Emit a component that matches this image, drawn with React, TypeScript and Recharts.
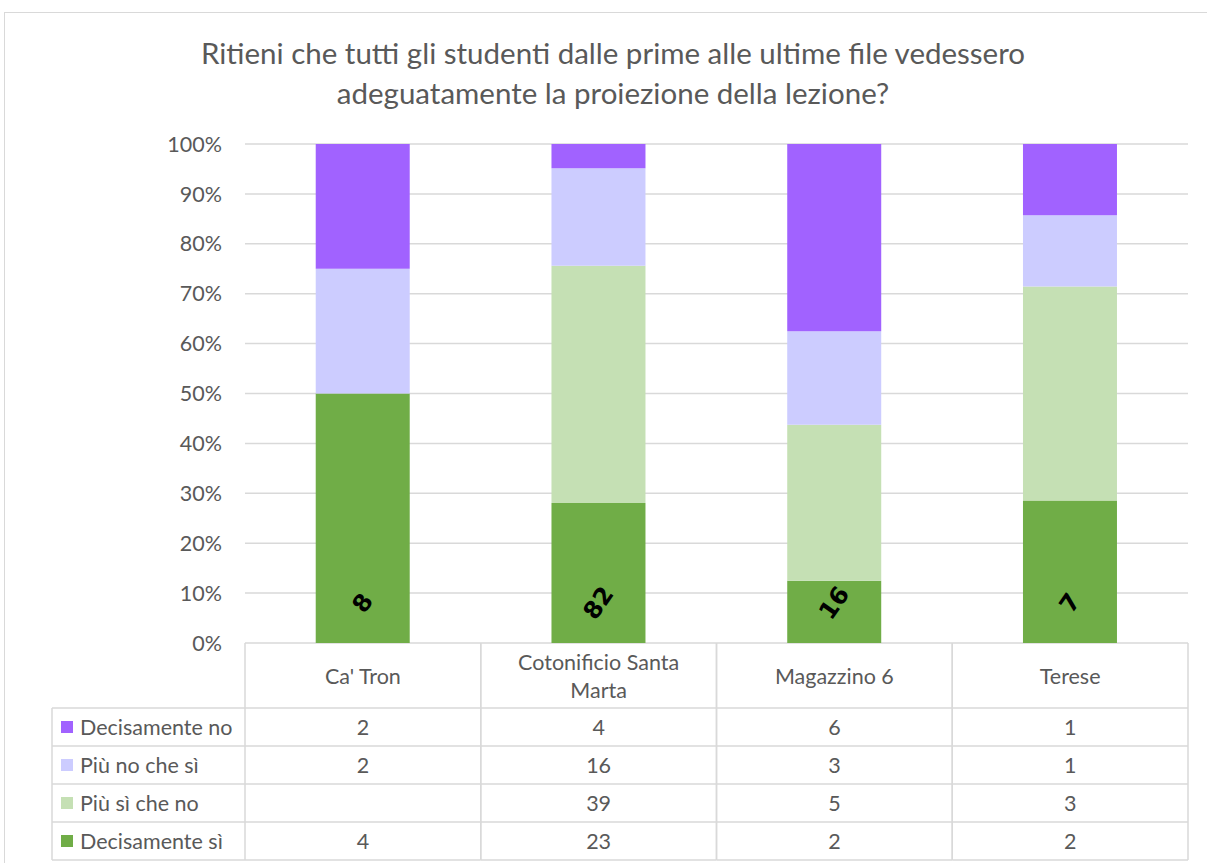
import { BarChart, Bar, XAxis, YAxis, CartesianGrid, LabelList } from "recharts";

const categories = ["Ca' Tron", "Cotonificio Santa Marta", "Magazzino 6", "Terese"];
const decisamenteNo = [2, 4, 6, 1];
const piuNoCheSi = [2, 16, 3, 1];
const piuSiCheNo = [null, 39, 5, 3];
const decisamenteSi = [4, 23, 2, 2];
const yTicks = [0, 0.1, 0.2, 0.3, 0.4, 0.5, 0.6, 0.7, 0.8, 0.9, 1];

// table order (top to bottom) = reverse of stack order
const series = [
  { key: "no", name: "Decisamente no", values: decisamenteNo, color: "#A162FF" },
  { key: "piuNo", name: "Più no che sì", values: piuNoCheSi, color: "#CCCCFF" },
  { key: "piuSi", name: "Più sì che no", values: piuSiCheNo, color: "#C5E0B4" },
  { key: "si", name: "Decisamente sì", values: decisamenteSi, color: "#70AD47" },
];

const totals = categories.map((_, i) =>
  series.reduce((s, r) => s + (r.values[i] ?? 0), 0)
);

const data = categories.map((name, i) => {
  const row: Record<string, string | number | null> = { name, total: totals[i] };
  series.forEach(s => { row[s.key] = s.values[i]; });
  return row;
});

const W = 1207;
const H = 863;
const PLOT_LEFT = 245;
const PLOT_RIGHT = 1188;
const PLOT_TOP = 144;
const PLOT_BOTTOM = 643;
const CELL_W = (PLOT_RIGHT - PLOT_LEFT) / categories.length;
const HEADER_H = 65;
const ROW_H = 38;
const LEGEND_LEFT = 52;
const FONT = "Lato, 'Open Sans', sans-serif";
const FS = 21.5;
const TXT = "#595959";
const LINE = "#d9d9d9";

// crude word wrap for header cells
const wrap = (s: string, max = 18) => {
  const lines: string[] = [];
  let cur = "";
  s.split(" ").forEach(w => {
    const next = cur ? `${cur} ${w}` : w;
    if (next.length > max && cur) { lines.push(cur); cur = w; } else cur = next;
  });
  if (cur) lines.push(cur);
  return lines;
};

function TableTick(props: any) {
  const { x, payload } = props;
  const i = payload.index;
  const left = x - CELL_W / 2;
  const right = x + CELL_W / 2;
  const top = PLOT_BOTTOM;
  const bottom = top + HEADER_H + ROW_H * series.length;
  const lines = wrap(String(payload.value));
  const lh = 28;
  const firstY = top + HEADER_H / 2 - ((lines.length - 1) * lh) / 2 + 8;
  return (
    <g>
      <line x1={left} x2={left} y1={top} y2={bottom} stroke={LINE} strokeWidth={1.5} />
      <line x1={right} x2={right} y1={top} y2={bottom} stroke={LINE} strokeWidth={1.5} />
      <text textAnchor="middle" fontSize={FS} fontFamily={FONT} fill={TXT}>
        {lines.map((l, k) => (
          <tspan key={k} x={x} y={firstY + k * lh}>{l}</tspan>
        ))}
      </text>
      {series.map((s, r) => {
        const y0 = top + HEADER_H + r * ROW_H;
        const v = s.values[i];
        return (
          <g key={s.key}>
            <line x1={left} x2={right} y1={y0} y2={y0} stroke={LINE} strokeWidth={1.5} />
            {v != null && (
              <text x={x} y={y0 + ROW_H / 2 + 8} textAnchor="middle" fontSize={FS} fontFamily={FONT} fill={TXT}>
                {v}
              </text>
            )}
          </g>
        );
      })}
      <line x1={left} x2={right} y1={bottom} y2={bottom} stroke={LINE} strokeWidth={1.5} />
      {i === 0 && (
        <g>
          <line x1={LEGEND_LEFT} x2={LEGEND_LEFT} y1={top + HEADER_H} y2={bottom} stroke={LINE} strokeWidth={1.5} />
          {series.map((s, r) => {
            const y0 = top + HEADER_H + r * ROW_H;
            return (
              <g key={s.key}>
                <line x1={LEGEND_LEFT} x2={left} y1={y0} y2={y0} stroke={LINE} strokeWidth={1.5} />
                <rect x={LEGEND_LEFT + 9} y={y0 + ROW_H / 2 - 6} width={12} height={12} fill={s.color} />
                <text x={LEGEND_LEFT + 28} y={y0 + ROW_H / 2 + 8} fontSize={FS} fontFamily={FONT} fill={TXT}>
                  {s.name}
                </text>
              </g>
            );
          })}
          <line x1={LEGEND_LEFT} x2={left} y1={bottom} y2={bottom} stroke={LINE} strokeWidth={1.5} />
        </g>
      )}
    </g>
  );
}

function TotalLabel(props: any) {
  const { x, y, width, height, index } = props;
  const cx = x + width / 2;
  const cy = y + height - 40;
  return (
    <text
      x={cx}
      y={cy}
      transform={`rotate(-55 ${cx} ${cy})`}
      textAnchor="middle"
      dominantBaseline="central"
      fontSize={24}
      fontWeight="bold"
      fontFamily="'DejaVu Sans', sans-serif"
      fill="#000"
    >
      {totals[index]}
    </text>
  );
}

export default function App() {
  const stack = [...series].reverse();
  return (
    <div style={{ position: "absolute", left: 0, top: 0, width: W, height: H, overflow: "hidden", background: "#fff" }}>
      <div
        style={{
          position: "absolute", left: 4, top: 12, width: W + 20, height: H + 20,
          border: `1.5px solid ${LINE}`, boxSizing: "border-box",
        }}
      />
      <div
        style={{
          position: "absolute", left: 0, top: 33, width: 1226, textAlign: "center",
          fontFamily: FONT, fontSize: 29.5, lineHeight: "40px", color: TXT,
        }}
      >
        Ritieni che tutti gli studenti dalle prime alle ultime file vedessero
        <br />
        adeguatamente la proiezione della lezione?
      </div>
      <BarChart
        width={W}
        height={H}
        data={data}
        stackOffset="expand"
        barCategoryGap="30%"
        margin={{ top: PLOT_TOP, right: W - PLOT_RIGHT, left: PLOT_LEFT - 70, bottom: 3 }}
        style={{ position: "absolute", left: 0, top: 0 }}
      >
        <CartesianGrid vertical={false} stroke={LINE} strokeWidth={1.5} />
        <YAxis
          width={70}
          domain={[0, 1]}
          ticks={yTicks}
          tickFormatter={(v: number) => `${Math.round(v * 100)}%`}
          axisLine={false}
          tickLine={false}
          tickMargin={17}
          tick={{ fontSize: FS, fontFamily: FONT, fill: TXT }}
        />
        <XAxis
          dataKey="name"
          height={H - PLOT_BOTTOM - 3}
          axisLine={false}
          tickLine={false}
          interval={0}
          tick={<TableTick />}
        />
        {stack.map(s => (
          <Bar key={s.key} dataKey={s.key} name={s.name} stackId="a" fill={s.color} isAnimationActive={false}>
            {s.key === "si" && <LabelList dataKey="total" content={<TotalLabel />} />}
          </Bar>
        ))}
      </BarChart>
    </div>
  );
}
